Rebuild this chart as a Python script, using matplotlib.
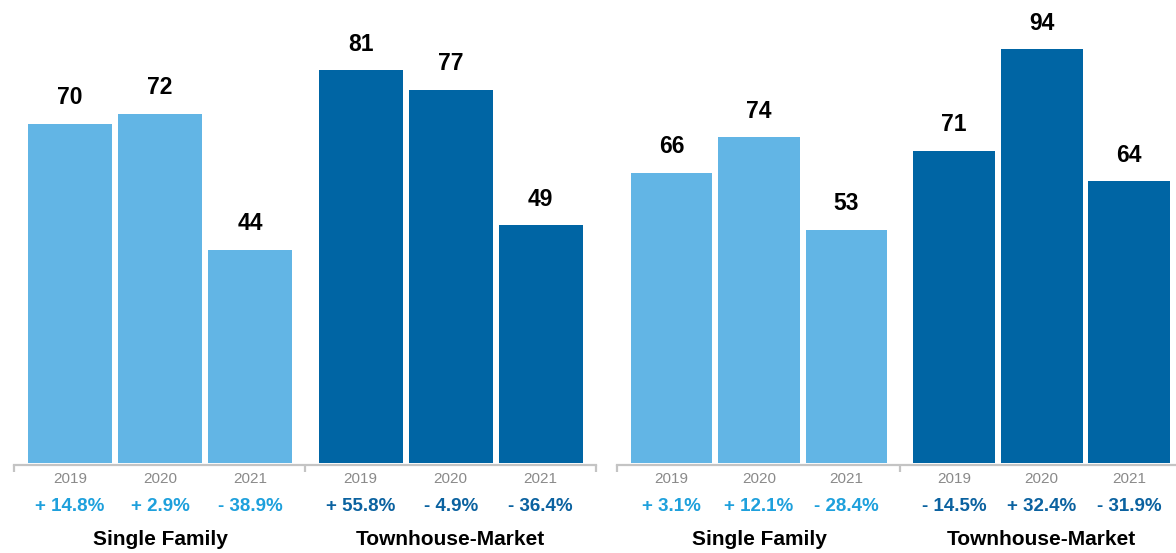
import matplotlib
matplotlib.use("Agg")
import matplotlib.pyplot as plt
import numpy as np

plt.rcParams['font.family'] = ['Liberation Sans', 'DejaVu Sans']

anos = ['2019', '2020', '2021']
grupos = ['Single Family', 'Townhouse-Market']

esq_single = [70, 72, 44]
esq_town = [81, 77, 49]
esq_single_pct = ['+ 14.8%', '+ 2.9%', '- 38.9%']
esq_town_pct = ['+ 55.8%', '- 4.9%', '- 36.4%']

dir_single = [66, 74, 53]
dir_town = [71, 94, 64]
dir_single_pct = ['+ 3.1%', '+ 12.1%', '- 28.4%']
dir_town_pct = ['- 14.5%', '+ 32.4%', '- 31.9%']

cor_clara = '#62b5e5'
cor_escura = '#0065a4'
cor_pct_clara = '#1ea0dc'
cor_pct_escura = '#0b62a0'
cor_eixo = '#c4c4c4'
cor_ano = '#8a8a8a'

deslocamento = 3.23
largura = 0.933
x_min, x_max = -0.622, 5.844


def desenha_painel(ax, single, town, single_pct, town_pct, y_max, y_min):
    x_single = np.arange(3)
    x_town = np.arange(3) + deslocamento
    ax.bar(x_single, single, width=largura, color=cor_clara)
    ax.bar(x_town, town, width=largura, color=cor_escura)

    for xs, vals, pcts, cor_pct in [(x_single, single, single_pct, cor_pct_clara),
                                   (x_town, town, town_pct, cor_pct_escura)]:
        for x, v, ano, pct in zip(xs, vals, anos, pcts):
            ax.annotate(str(v), xy=(x, v), xytext=(0, 14), textcoords='offset points',
                        ha='center', va='baseline', fontsize=16.5, fontweight='bold', color='black')
            ax.annotate(ano, xy=(x, 0), xycoords=('data', 'axes fraction'),
                        xytext=(0, -13), textcoords='offset points',
                        ha='center', va='baseline', fontsize=11, color=cor_ano)
            ax.annotate(pct, xy=(x, 0), xycoords=('data', 'axes fraction'),
                        xytext=(0, -33), textcoords='offset points',
                        ha='center', va='baseline', fontsize=13.5, fontweight='bold', color=cor_pct)

    for centro, nome in zip([1, 1 + deslocamento], grupos):
        ax.annotate(nome, xy=(centro, 0), xycoords=('data', 'axes fraction'),
                    xytext=(0, -57.5), textcoords='offset points',
                    ha='center', va='baseline', fontsize=15, fontweight='bold', color='black')

    ax.set_xlim(x_min, x_max)
    ax.set_ylim(y_min, y_max)
    for lado in ['top', 'right', 'left']:
        ax.spines[lado].set_visible(False)
    ax.spines['bottom'].set_color(cor_eixo)
    ax.spines['bottom'].set_linewidth(1.6)
    ax.set_xticks([x_min, (2 + deslocamento) / 2, x_max])
    ax.set_xticklabels([])
    ax.tick_params(axis='x', direction='out', length=5, width=1.6, color=cor_eixo)
    ax.set_yticks([])
    ax.patch.set_alpha(0)


W, H = 1176, 553
fig = plt.figure(figsize=(W / 100, H / 100), dpi=100)
base = (H - 465) / H
altura = 465 / H

ax1 = fig.add_axes([14 / W, base, 582 / W, altura])
ax1.set_clip_on(False)
desenha_painel(ax1, esq_single, esq_town, esq_single_pct, esq_town_pct, 465 / 4.87, -2 / 4.87)

ax2 = fig.add_axes([617 / W, base, 566 / W, altura])
desenha_painel(ax2, dir_single, dir_town, dir_single_pct, dir_town_pct, 465 / 4.42, -2 / 4.42)

fig.savefig('out.png', dpi=100)
